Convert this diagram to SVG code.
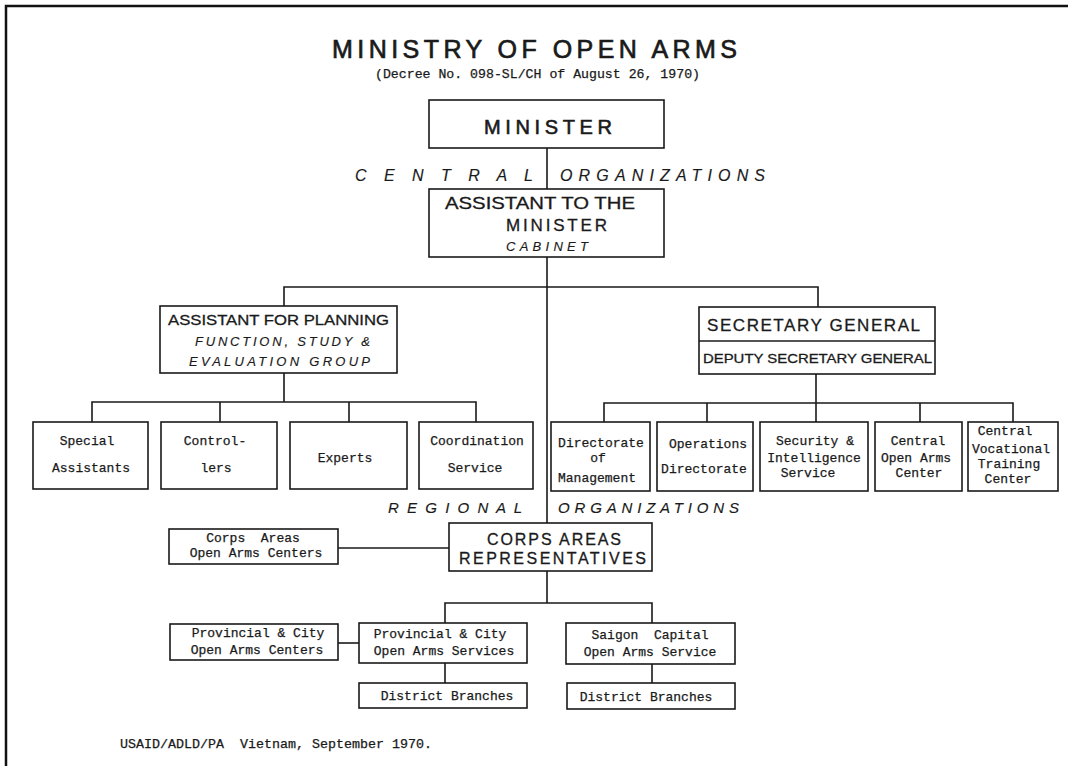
<svg xmlns="http://www.w3.org/2000/svg" width="1068" height="766" viewBox="0 0 1068 766">
<style>
.bx{fill:#fff;stroke:#1a1a1a;stroke-width:1.6}
.ln{fill:none;stroke:#1a1a1a;stroke-width:1.6}
.ss{font-family:"Liberation Sans",Arial,sans-serif;fill:#1a1a1a;stroke:#1a1a1a;stroke-width:0.3}
.it{font-style:italic;stroke-width:0.15}
.mo{font-family:"Liberation Mono","Courier New",monospace;font-size:13px;fill:#1a1a1a;stroke:#1a1a1a;stroke-width:0.25;white-space:pre}
.c{text-anchor:middle}
</style>
<rect x="0" y="0" width="1068" height="766" fill="#fff"/>
<path d="M6,766 V6 H1068" fill="none" stroke="#111" stroke-width="2.5"/>
<g id="title">
<text class="ss" x="332" y="58" font-size="25" textLength="405" lengthAdjust="spacing" style="stroke-width:0.7">MINISTRY OF OPEN ARMS</text>
<text class="mo" x="375" y="78" font-size="12" textLength="325" lengthAdjust="spacingAndGlyphs">(Decree No. 098-SL/CH of August 26, 1970)</text>
</g>
<g id="connectors">
<path class="ln" d="M547,148 V189 M547,257 V523 M547,571 V603"/>
<path class="ln" d="M284,306 V287 H818 V307"/>
<path class="ln" d="M284,373 V402 M92,422 V402 H476 V422 M220,402 V422 M349,402 V422"/>
<path class="ln" d="M816,374 V403 M604,422 V403 H1013 V422 M707,403 V422 M816,403 V422 M920,403 V422"/>
<path class="ln" d="M338,548 H449"/>
<path class="ln" d="M445,623 V603 H652 V623"/>
<path class="ln" d="M338,643 H359"/>
<path class="ln" d="M445,663 V683 M652,664 V683"/>
</g>
<g id="org-labels">
<text class="ss it" x="355" y="181" font-size="16" textLength="178" lengthAdjust="spacing">C E N T R A L</text>
<text class="ss it" x="560" y="181" font-size="16" textLength="205" lengthAdjust="spacing">ORGANIZATIONS</text>
<text class="ss it" x="388" y="513" font-size="15" textLength="134" lengthAdjust="spacing">R E G I O N A L</text>
<text class="ss it" x="558" y="513" font-size="15" textLength="181" lengthAdjust="spacing">ORGANIZATIONS</text>
</g>
<g id="minister">
<rect class="bx" x="429" y="100" width="235" height="48"/>
<text class="ss" x="484" y="134" font-size="20" textLength="128" lengthAdjust="spacing" style="stroke-width:0.6">MINISTER</text>
</g>
<g id="assistant-minister">
<rect class="bx" x="429" y="189" width="235" height="68"/>
<text class="ss" x="445" y="209" font-size="17" textLength="190" lengthAdjust="spacingAndGlyphs">ASSISTANT TO THE</text>
<text class="ss" x="506" y="231" font-size="17" textLength="101" lengthAdjust="spacing">MINISTER</text>
<text class="ss it" x="506" y="251" font-size="13" textLength="82" lengthAdjust="spacing">CABINET</text>
</g>
<g id="assistant-planning">
<rect class="bx" x="160" y="306" width="237" height="67"/>
<text class="ss" x="168" y="325" font-size="15" textLength="221" lengthAdjust="spacingAndGlyphs">ASSISTANT FOR PLANNING</text>
<text class="ss it" x="195" y="346" font-size="13" textLength="175" lengthAdjust="spacing">FUNCTION, STUDY &amp;</text>
<text class="ss it" x="189" y="366" font-size="13" textLength="181" lengthAdjust="spacing">EVALUATION GROUP</text>
</g>
<g id="secretary-general">
<rect class="bx" x="699" y="307" width="236" height="67"/>
<line class="ln" x1="699" y1="341" x2="935" y2="341"/>
<text class="ss" x="707" y="331" font-size="17" textLength="213" lengthAdjust="spacing">SECRETARY GENERAL</text>
<text class="ss" x="703" y="363" font-size="13" textLength="229" lengthAdjust="spacingAndGlyphs">DEPUTY SECRETARY GENERAL</text>
</g>
<g id="special-assistants">
<rect class="bx" x="33" y="422" width="115" height="67"/>
<text class="mo c" x="87" y="445">Special</text>
<text class="mo c" x="91" y="472">Assistants</text>
</g>
<g id="controllers">
<rect class="bx" x="161" y="422" width="116" height="67"/>
<text class="mo c" x="215" y="445">Control-</text>
<text class="mo c" x="216" y="472">lers</text>
</g>
<g id="experts">
<rect class="bx" x="290" y="422" width="117" height="67"/>
<text class="mo c" x="345" y="462">Experts</text>
</g>
<g id="coordination">
<rect class="bx" x="419" y="422" width="114" height="67"/>
<text class="mo c" x="477" y="445">Coordination</text>
<text class="mo c" x="475" y="472">Service</text>
</g>
<g id="dir-management">
<rect class="bx" x="551" y="422" width="99" height="69"/>
<text class="mo c" x="601" y="447">Directorate</text>
<text class="mo c" x="598" y="462">of</text>
<text class="mo c" x="597" y="482">Management</text>
</g>
<g id="operations">
<rect class="bx" x="657" y="422" width="96" height="69"/>
<text class="mo c" x="708" y="448">Operations</text>
<text class="mo c" x="704" y="473">Directorate</text>
</g>
<g id="security">
<rect class="bx" x="760" y="422" width="108" height="69"/>
<text class="mo c" x="815" y="445">Security &amp;</text>
<text class="mo c" x="814" y="462">Intelligence</text>
<text class="mo c" x="808" y="477">Service</text>
</g>
<g id="central-center">
<rect class="bx" x="875" y="422" width="87" height="69"/>
<text class="mo c" x="918" y="445">Central</text>
<text class="mo c" x="916" y="462">Open Arms</text>
<text class="mo c" x="919" y="477">Center</text>
</g>
<g id="vocational">
<rect class="bx" x="968" y="422" width="90" height="69"/>
<text class="mo c" x="1005" y="435">Central</text>
<text class="mo c" x="1011" y="453">Vocational</text>
<text class="mo c" x="1009" y="468">Training</text>
<text class="mo c" x="1008" y="483">Center</text>
</g>
<g id="corps-representatives">
<rect class="bx" x="449" y="523" width="203" height="48"/>
<text class="ss" x="487" y="545" font-size="16" textLength="134" lengthAdjust="spacing">CORPS AREAS</text>
<text class="ss" x="459" y="564" font-size="16" textLength="187" lengthAdjust="spacing">REPRESENTATIVES</text>
</g>
<g id="corps-centers">
<rect class="bx" x="169" y="529" width="169" height="35"/>
<text class="mo c" x="253" y="542">Corps  Areas</text>
<text class="mo c" x="256" y="557">Open Arms Centers</text>
</g>
<g id="prov-centers">
<rect class="bx" x="170" y="624" width="168" height="36"/>
<text class="mo c" x="258" y="637">Provincial &amp; City</text>
<text class="mo c" x="257" y="654">Open Arms Centers</text>
</g>
<g id="prov-services">
<rect class="bx" x="359" y="623" width="168" height="40"/>
<text class="mo c" x="440" y="638">Provincial &amp; City</text>
<text class="mo c" x="444" y="655">Open Arms Services</text>
</g>
<g id="saigon">
<rect class="bx" x="566" y="623" width="169" height="41"/>
<text class="mo c" x="650" y="639">Saigon  Capital</text>
<text class="mo c" x="650" y="656">Open Arms Service</text>
</g>
<g id="district-1">
<rect class="bx" x="359" y="683" width="168" height="25"/>
<text class="mo c" x="447" y="700">District Branches</text>
</g>
<g id="district-2">
<rect class="bx" x="567" y="683" width="168" height="26"/>
<text class="mo c" x="646" y="701">District Branches</text>
</g>
<text class="mo" x="120" y="748" textLength="312" lengthAdjust="spacingAndGlyphs">USAID/ADLD/PA  Vietnam, September 1970.</text>
</svg>
